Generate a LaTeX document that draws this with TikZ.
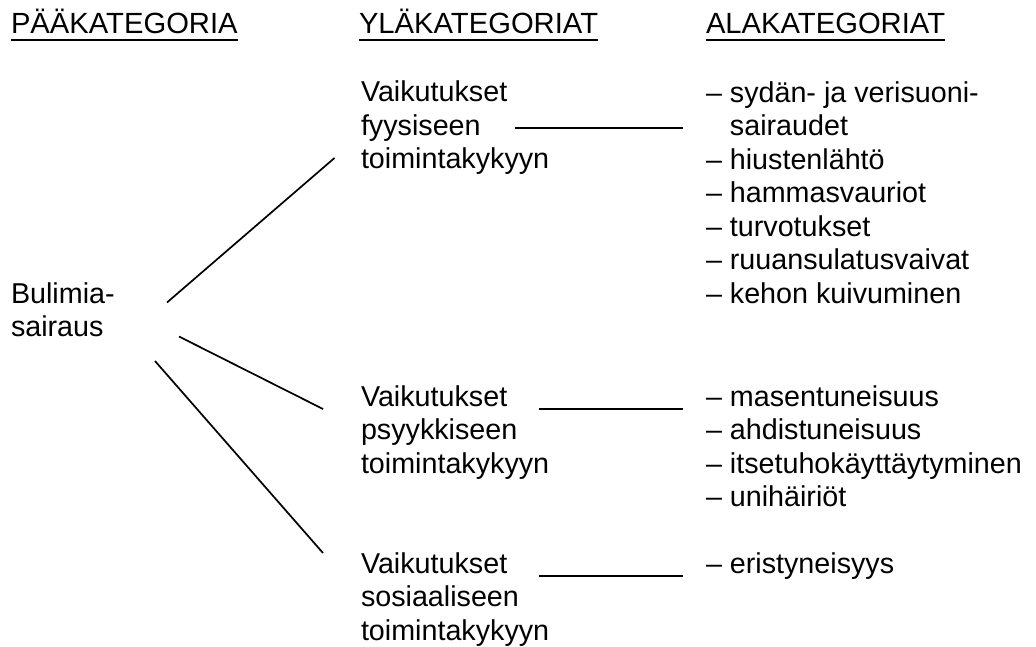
\documentclass[tikz,border=0pt]{standalone}
\usepackage{fontspec}
\setmainfont{Liberation Sans}
\begin{document}
\begin{tikzpicture}[x=1pt,y=-1pt,
  txt/.style={anchor=base west,inner sep=0pt,outer sep=0pt,align=left,
    font=\fontsize{28.7}{33.5}\selectfont},
  head/.style={txt,font=\fontsize{29.2}{33.5}\selectfont},
  link/.style={line width=1.7pt,line cap=butt},
  uline/.style={line width=2.3pt}]
\useasboundingbox (0,0) rectangle (1036,647);

% column headings
\node[head] (h1) at (11,34) {PÄÄKATEGORIA};
\node[head] (h2) at (359,34) {YLÄKATEGORIAT};
\node[head] (h3) at (706,34) {ALAKATEGORIAT};
\foreach \h in {h1,h2,h3}
  \draw[uline] ([yshift=-5.7pt]\h.base west) -- ([yshift=-5.7pt]\h.base east);

% main category (positioned by the baseline of its last line)
\node[txt] (main) at (11,336.5) {Bulimia-\\sairaus};

% upper categories
\node[txt] (up1) at (361,169) {Vaikutukset\\fyysiseen\\toimintakykyyn};
\node[txt] (up2) at (361,473) {Vaikutukset\\psyykkiseen\\toimintakykyyn};
\node[txt] (up3) at (361,640) {Vaikutukset\\sosiaaliseen\\toimintakykyyn};

% sub categories
\node[txt] (sub1) at (706,303) {– sydän- ja verisuoni-\\\phantom{– }sairaudet\\– hiustenlähtö\\– hammasvauriot\\– turvotukset\\– ruuansulatusvaivat\\– kehon kuivuminen};
\node[txt] (sub2) at (706,506.5) {– masentuneisuus\\– ahdistuneisuus\\– itsetuhokäyttäytyminen\\– unihäiriöt};
\node[txt] (sub3) at (706,573) {– eristyneisyys};

% connector end points
\coordinate (m1) at (167,302.5);
\coordinate (m2) at (179,336.5);
\coordinate (m3) at (155,361);
\coordinate (u1) at (334.5,158);
\coordinate (u2) at (323,409);
\coordinate (u3) at (323,553);
\coordinate (u1r) at (515,128);
\coordinate (u2r) at (539,409);
\coordinate (u3r) at (539,576);
\coordinate (s1) at (683,128);
\coordinate (s2) at (683,409);
\coordinate (s3) at (683,576);

% connectors
\draw[link] (m1) -- (u1);
\draw[link] (m2) -- (u2);
\draw[link] (m3) -- (u3);
\draw[link] (u1r) -- (s1);
\draw[link] (u2r) -- (s2);
\draw[link] (u3r) -- (s3);
\end{tikzpicture}
\end{document}
